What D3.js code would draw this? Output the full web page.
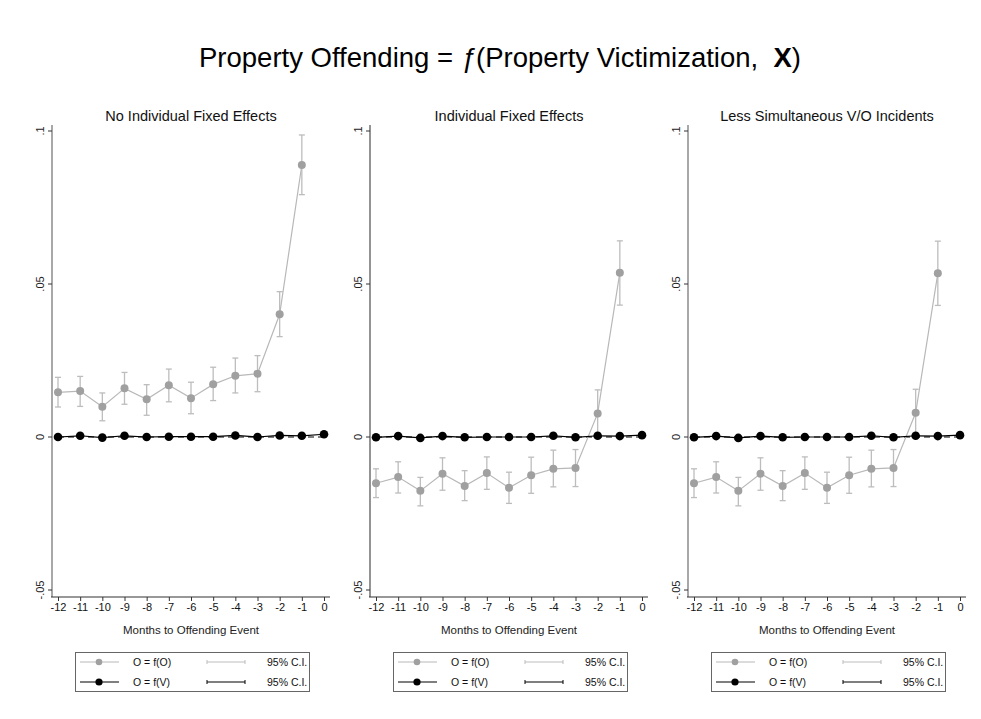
<!DOCTYPE html>
<html>
<head>
<meta charset="utf-8">
<script src="https://cdn.jsdelivr.net/npm/d3@7"></script>
<style>
  body { margin: 0; background: #fff; }
  text { font-family: "Liberation Sans", Arial, sans-serif; }
</style>
</head>
<body>
<script>
// ---------- data ----------
const months = [-12, -11, -10, -9, -8, -7, -6, -5, -4, -3, -2, -1, 0];
const greyMonths = [-12, -11, -10, -9, -8, -7, -6, -5, -4, -3, -2, -1];
const panelTitles = ["No Individual Fixed Effects", "Individual Fixed Effects", "Less Simultaneous V/O Incidents"];
const yTicks = [-0.05, 0, 0.05, 0.1];
const yTickLabels = ["-.05", "0", ".05", ".1"];
const xAxisTitle = "Months to Offending Event";
const legendLabels = ["O = f(O)", "O = f(V)", "95% C.I.", "95% C.I."];

// Panel 1: O = f(O) (grey)
const p1GreyEst = [0.0146, 0.0150, 0.0099, 0.0159, 0.0123, 0.0169, 0.0127, 0.0172, 0.0200, 0.0207, 0.0401, 0.0889];
const p1GreyLo  = [0.0098, 0.0100, 0.0053, 0.0107, 0.0071, 0.0115, 0.0076, 0.0119, 0.0144, 0.0148, 0.0328, 0.0792];
const p1GreyHi  = [0.0195, 0.0198, 0.0144, 0.0211, 0.0171, 0.0222, 0.0179, 0.0228, 0.0258, 0.0266, 0.0475, 0.0987];
// Panel 1: O = f(V) (black)
const p1BlackEst = [0.0000, 0.0004, -0.0002, 0.0004, 0.0000, 0.0001, 0.0001, 0.0001, 0.0005, 0.0000, 0.0005, 0.0004, 0.0009];
const p1BlackLo  = [-0.0003, 0.0001, -0.0005, 0.0001, -0.0003, -0.0002, -0.0002, -0.0002, 0.0002, -0.0003, 0.0002, 0.0001, 0.0006];
const p1BlackHi  = [0.0003, 0.0007, 0.0001, 0.0007, 0.0003, 0.0004, 0.0004, 0.0004, 0.0008, 0.0003, 0.0008, 0.0007, 0.0012];

// Panel 2
const p2GreyEst = [-0.0151, -0.0131, -0.0176, -0.0120, -0.0160, -0.0118, -0.0166, -0.0125, -0.0104, -0.0101, 0.0077, 0.0537];
const p2GreyLo  = [-0.0198, -0.0183, -0.0225, -0.0174, -0.0208, -0.0171, -0.0217, -0.0184, -0.0163, -0.0162, 0.0001, 0.0431];
const p2GreyHi  = [-0.0104, -0.0081, -0.0132, -0.0068, -0.0110, -0.0065, -0.0115, -0.0066, -0.0043, -0.0041, 0.0154, 0.0641];
const p2BlackEst = [-0.0001, 0.0003, -0.0003, 0.0003, -0.0001, 0.0000, 0.0000, 0.0000, 0.0004, -0.0001, 0.0004, 0.0003, 0.0006];
const p2BlackLo  = [-0.0004, 0.0000, -0.0006, 0.0000, -0.0004, -0.0003, -0.0003, -0.0003, 0.0001, -0.0004, 0.0001, 0.0000, 0.0003];
const p2BlackHi  = [0.0002, 0.0006, 0.0000, 0.0006, 0.0002, 0.0003, 0.0003, 0.0003, 0.0007, 0.0002, 0.0007, 0.0006, 0.0009];

// Panel 3
const p3GreyEst = [-0.0151, -0.0131, -0.0176, -0.0120, -0.0160, -0.0118, -0.0166, -0.0125, -0.0104, -0.0101, 0.0079, 0.0535];
const p3GreyLo  = [-0.0198, -0.0183, -0.0225, -0.0174, -0.0208, -0.0171, -0.0217, -0.0184, -0.0163, -0.0162, 0.0002, 0.0430];
const p3GreyHi  = [-0.0104, -0.0081, -0.0132, -0.0068, -0.0110, -0.0065, -0.0115, -0.0066, -0.0043, -0.0041, 0.0156, 0.0640];
const p3BlackEst = [-0.0001, 0.0003, -0.0003, 0.0003, -0.0001, 0.0000, 0.0000, 0.0000, 0.0004, -0.0001, 0.0004, 0.0003, 0.0006];
const p3BlackLo  = [-0.0004, 0.0000, -0.0006, 0.0000, -0.0004, -0.0003, -0.0003, -0.0003, 0.0001, -0.0004, 0.0001, 0.0000, 0.0003];
const p3BlackHi  = [0.0002, 0.0006, 0.0000, 0.0006, 0.0002, 0.0003, 0.0003, 0.0003, 0.0007, 0.0002, 0.0007, 0.0006, 0.0009];

const panels = [
  {title: panelTitles[0], gE: p1GreyEst, gL: p1GreyLo, gH: p1GreyHi, bE: p1BlackEst, bL: p1BlackLo, bH: p1BlackHi, yAxisColor: "#a8a8a8", yAxisW: 2},
  {title: panelTitles[1], gE: p2GreyEst, gL: p2GreyLo, gH: p2GreyHi, bE: p2BlackEst, bL: p2BlackLo, bH: p2BlackHi, yAxisColor: "#666", yAxisW: 1.4},
  {title: panelTitles[2], gE: p3GreyEst, gL: p3GreyLo, gH: p3GreyHi, bE: p3BlackEst, bL: p3BlackLo, bH: p3BlackHi, yAxisColor: "#a8a8a8", yAxisW: 2}
];

// ---------- drawing ----------
const W = 981, H = 719;
const svg = d3.select("body").append("svg").attr("width", W).attr("height", H);
svg.append("rect").attr("width", W).attr("height", H).attr("fill", "#fff");

// Main title
const t = svg.append("text").attr("x", 500).attr("y", 67).attr("text-anchor", "middle")
  .attr("font-size", 27.5).attr("fill", "#000").style("white-space", "pre");
t.append("tspan").text("Property Offending = ");
t.append("tspan").attr("font-style", "italic").text("ƒ");
t.append("tspan").text("(Property Victimization,  ");
t.append("tspan").attr("font-weight", "bold").text("X");
t.append("tspan").text(")");

const PANEL_DX = 318;
const greyPt = "#a0a0a0", greyLine = "#b8b8b8", greyCI = "#bdbdbd";

panels.forEach((p, i) => {
  const g = svg.append("g").attr("transform", `translate(${i * PANEL_DX},0)`);
  const x = d3.scaleLinear().domain([-12, 0]).range([58, 324]);
  const y = d3.scaleLinear().domain([-0.05, 0.1]).range([590, 131]);
  const axisLeftX = 52, axisBottomY = 597;

  // panel title
  g.append("text").attr("x", 191).attr("y", 121).attr("text-anchor", "middle")
    .attr("font-size", 14.5).attr("fill", "#111").text(p.title);

  // y axis line
  g.append("line").attr("x1", axisLeftX).attr("x2", axisLeftX)
    .attr("y1", y(0.102)).attr("y2", axisBottomY)
    .attr("stroke", p.yAxisColor).attr("stroke-width", p.yAxisW);
  // y ticks
  yTicks.forEach((v, k) => {
    g.append("line").attr("x1", axisLeftX - 4).attr("x2", axisLeftX)
      .attr("y1", y(v)).attr("y2", y(v)).attr("stroke", "#333").attr("stroke-width", 1);
    g.append("text").attr("transform", `translate(${axisLeftX - 8},${y(v)}) rotate(-90)`)
      .attr("text-anchor", "middle").attr("font-size", 11).attr("fill", "#222")
      .text(yTickLabels[k]);
  });

  // x axis via d3
  const xAxis = d3.axisBottom(x).tickValues(months).tickSize(4).tickSizeOuter(0).tickFormat(d => String(d));
  const xa = g.append("g").attr("transform", `translate(0,${axisBottomY})`).call(xAxis);
  xa.select(".domain").remove();
  xa.selectAll(".tick line").attr("stroke", "#333");
  xa.selectAll(".tick text").attr("font-size", 11).attr("fill", "#111")
    .attr("font-family", "Liberation Sans, Arial, sans-serif").attr("dy", "0.85em").attr("y", 5);
  g.append("line").attr("x1", axisLeftX - 1).attr("x2", 330)
    .attr("y1", axisBottomY).attr("y2", axisBottomY).attr("stroke", "#333").attr("stroke-width", 1.2);

  // x axis title
  g.append("text").attr("x", 191).attr("y", 634).attr("text-anchor", "middle")
    .attr("font-size", 11.5).attr("fill", "#222").text(xAxisTitle);

  // zero reference dashed line
  g.append("line").attr("x1", x(-12)).attr("x2", x(0)).attr("y1", y(0)).attr("y2", y(0))
    .attr("stroke", "#000").attr("stroke-width", 1.2).attr("stroke-dasharray", "6,4");

  // grey series CI
  greyMonths.forEach((m, k) => {
    const cx = x(m);
    g.append("line").attr("x1", cx).attr("x2", cx).attr("y1", y(p.gL[k])).attr("y2", y(p.gH[k]))
      .attr("stroke", greyCI).attr("stroke-width", 1.3);
    [p.gL[k], p.gH[k]].forEach(v => {
      g.append("line").attr("x1", cx - 3).attr("x2", cx + 3).attr("y1", y(v)).attr("y2", y(v))
        .attr("stroke", greyCI).attr("stroke-width", 1.3);
    });
  });
  // grey line
  const line = d3.line().x(d => x(d[0])).y(d => y(d[1]));
  g.append("path").attr("d", line(greyMonths.map((m, k) => [m, p.gE[k]])))
    .attr("fill", "none").attr("stroke", greyLine).attr("stroke-width", 1.2);
  g.selectAll(".gpt").data(greyMonths.map((m, k) => [m, p.gE[k]])).enter().append("circle")
    .attr("cx", d => x(d[0])).attr("cy", d => y(d[1])).attr("r", 4).attr("fill", greyPt);

  // black series CI
  months.forEach((m, k) => {
    const cx = x(m);
    g.append("line").attr("x1", cx).attr("x2", cx).attr("y1", y(p.bL[k])).attr("y2", y(p.bH[k]))
      .attr("stroke", "#000").attr("stroke-width", 1);
  });
  g.append("path").attr("d", line(months.map((m, k) => [m, p.bE[k]])))
    .attr("fill", "none").attr("stroke", "#000").attr("stroke-width", 1.2);
  g.selectAll(".bpt").data(months.map((m, k) => [m, p.bE[k]])).enter().append("circle")
    .attr("cx", d => x(d[0])).attr("cy", d => y(d[1])).attr("r", 4.3).attr("fill", "#000");

  // legend
  const lg = g.append("g");
  lg.append("rect").attr("x", 75.5).attr("y", 652.5).attr("width", 234).attr("height", 39)
    .attr("fill", "#fff").attr("stroke", "#666").attr("stroke-width", 1);
  const rows = [662, 682];
  const fs = 10.5;
  // row 1 grey
  lg.append("line").attr("x1", 80).attr("x2", 119).attr("y1", rows[0]).attr("y2", rows[0]).attr("stroke", greyLine).attr("stroke-width", 1);
  lg.append("circle").attr("cx", 99).attr("cy", rows[0]).attr("r", 3.3).attr("fill", greyPt);
  lg.append("text").attr("x", 133).attr("y", rows[0] + 3.8).attr("font-size", fs).attr("fill", "#111").text(legendLabels[0]);
  lg.append("line").attr("x1", 207).attr("x2", 245).attr("y1", rows[0]).attr("y2", rows[0]).attr("stroke", greyCI).attr("stroke-width", 1);
  [207, 245].forEach(xx => lg.append("line").attr("x1", xx).attr("x2", xx).attr("y1", rows[0] - 2).attr("y2", rows[0] + 2).attr("stroke", greyCI));
  lg.append("text").attr("x", 267).attr("y", rows[0] + 3.8).attr("font-size", fs).attr("fill", "#111").text(legendLabels[2]);
  // row 2 black
  lg.append("line").attr("x1", 80).attr("x2", 119).attr("y1", rows[1]).attr("y2", rows[1]).attr("stroke", "#000").attr("stroke-width", 1.2);
  lg.append("circle").attr("cx", 99).attr("cy", rows[1]).attr("r", 3.6).attr("fill", "#000");
  lg.append("text").attr("x", 133).attr("y", rows[1] + 3.8).attr("font-size", fs).attr("fill", "#111").text(legendLabels[1]);
  lg.append("line").attr("x1", 207).attr("x2", 245).attr("y1", rows[1]).attr("y2", rows[1]).attr("stroke", "#000").attr("stroke-width", 1.2);
  [207, 245].forEach(xx => lg.append("line").attr("x1", xx).attr("x2", xx).attr("y1", rows[1] - 2).attr("y2", rows[1] + 2).attr("stroke", "#000"));
  lg.append("text").attr("x", 267).attr("y", rows[1] + 3.8).attr("font-size", fs).attr("fill", "#111").text(legendLabels[3]);
});
</script>
</body>
</html>
